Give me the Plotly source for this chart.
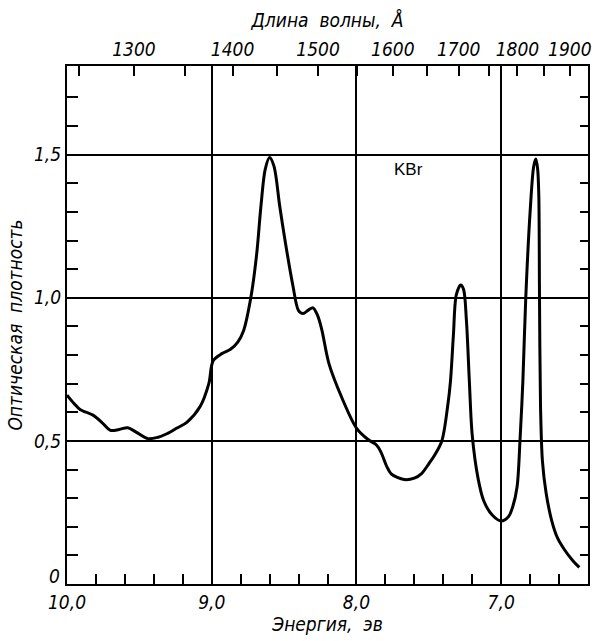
import plotly.graph_objects as go

# Absorption spectrum of KBr: energy (eV) vs optical density
energy = [10.0, 9.95, 9.91, 9.82, 9.76, 9.70, 9.64, 9.58, 9.52, 9.44, 9.37, 9.31, 9.24, 9.17,
          9.08, 9.02, 8.99, 8.93, 8.87, 8.82, 8.78, 8.73, 8.69, 8.66, 8.63, 8.60, 8.57, 8.53,
          8.49, 8.44, 8.40, 8.37, 8.33, 8.30, 8.27, 8.24, 8.19, 8.10, 8.0, 7.92, 7.86, 7.83,
          7.79, 7.76, 7.67, 7.60, 7.55, 7.50, 7.46, 7.41, 7.37, 7.35, 7.33, 7.31, 7.28, 7.26,
          7.24, 7.22, 7.20, 7.16, 7.12, 7.06, 7.0, 6.95, 6.92, 6.89, 6.87, 6.85, 6.83, 6.80,
          6.775, 6.76, 6.748, 6.74, 6.735, 6.728, 6.715, 6.69, 6.65, 6.61, 6.56, 6.51, 6.46]
density = [0.66, 0.63, 0.61, 0.59, 0.565, 0.537, 0.54, 0.546, 0.53, 0.508, 0.513, 0.525, 0.545, 0.566,
           0.62, 0.70, 0.78, 0.805, 0.82, 0.845, 0.885, 1.0, 1.15, 1.32, 1.45, 1.49, 1.46, 1.32,
           1.19, 1.045, 0.955, 0.945, 0.958, 0.965, 0.94, 0.89, 0.77, 0.65, 0.545, 0.505, 0.485, 0.46,
           0.41, 0.385, 0.365, 0.37, 0.386, 0.42, 0.45, 0.50, 0.62, 0.71, 0.87, 1.01, 1.045, 1.03,
           0.92, 0.71, 0.52, 0.37, 0.29, 0.24, 0.22, 0.235, 0.27, 0.34, 0.50, 0.71, 1.0, 1.30,
           1.46, 1.485, 1.45, 1.36, 0.99, 0.62, 0.43, 0.32, 0.22, 0.16, 0.118, 0.085, 0.058]

# Axis ticks
energy_ticks = [10.0, 9.0, 8.0, 7.0]
energy_labels = ["10,0", "9,0", "8,0", "7,0"]
energy_minor = [9.8, 9.6, 9.4, 9.2, 8.8, 8.6, 8.4, 8.2, 7.8, 7.6, 7.4, 7.2, 6.8, 6.6]
wave_ticks = [1300, 1400, 1500, 1600, 1700, 1800, 1900]
wave_minor = [1250, 1350, 1450, 1550, 1650, 1750, 1850]
density_ticks = [0.5, 1.0, 1.5]
density_labels = ["0,5", "1,0", "1,5"]
density_zero = 0.0
density_minor = [0.1, 0.2, 0.3, 0.4, 0.6, 0.7, 0.8, 0.9, 1.1, 1.2, 1.3, 1.4, 1.6, 1.7]

HC = 12398.4  # eV·Å
X_RANGE = [10.0, 6.4]
Y_RANGE = [0.0, 1.81]

FONT = "Liberation Sans Narrow, DejaVu Sans Condensed, Arial Narrow, sans-serif"

fig = go.Figure()
fig.add_trace(go.Scatter(x=energy, y=density, mode="lines",
                         line=dict(color="black", width=3, shape="spline", smoothing=0.9),
                         showlegend=False, hoverinfo="skip"))
# invisible traces to anchor top and right axes
fig.add_trace(go.Scatter(x=energy, y=density, xaxis="x2", yaxis="y", mode="lines",
                         line=dict(color="rgba(0,0,0,0)", width=0), showlegend=False, hoverinfo="skip"))
fig.add_trace(go.Scatter(x=energy, y=density, xaxis="x", yaxis="y2", mode="lines",
                         line=dict(color="rgba(0,0,0,0)", width=0), showlegend=False, hoverinfo="skip"))

tickfont = dict(family=FONT, size=19, color="black")
titlefont = dict(family=FONT, size=19, color="black")

fig.update_layout(
    width=596, height=641,
    margin=dict(l=67, r=8, t=66, b=57),
    paper_bgcolor="white", plot_bgcolor="white",
    xaxis=dict(range=X_RANGE, tickmode="array", tickvals=energy_ticks,
               ticktext=[f"<i>{t}</i>" for t in energy_labels], automargin=False,
               tickfont=tickfont, ticks="", showgrid=True, gridcolor="black", gridwidth=1.5,
               showline=True, linecolor="black", linewidth=2, zeroline=False,
               minor=dict(tickmode="array", tickvals=energy_minor, ticks="inside",
                          ticklen=10, tickwidth=1.5, tickcolor="black", showgrid=False),
               title=dict(text="<i>Энергия,  эв</i>", font=titlefont, standoff=4)),
    xaxis2=dict(range=X_RANGE, overlaying="x", side="top", tickmode="array",
                tickvals=[HC / w for w in wave_ticks], automargin=False,
                ticktext=[f"<i>{w}</i>" for w in wave_ticks],
                tickfont=tickfont, ticks="inside", ticklen=10, tickwidth=1.5, tickcolor="black",
                showgrid=False, showline=True, linecolor="black", linewidth=2, zeroline=False,
                minor=dict(tickmode="array", tickvals=[HC / w for w in wave_minor], ticks="inside",
                           ticklen=10, tickwidth=1.5, tickcolor="black", showgrid=False),
                title=dict(text="<i>Длина  волны,  Å</i>", font=titlefont, standoff=6)),
    yaxis=dict(range=Y_RANGE, tickmode="array", tickvals=density_ticks,
               ticktext=[f"<i>{t}</i>" for t in density_labels], automargin=False,
               tickfont=tickfont, ticks="", showgrid=True, gridcolor="black", gridwidth=1.5,
               showline=True, linecolor="black", linewidth=2, zeroline=False,
               minor=dict(tickmode="array", tickvals=density_minor, ticks="inside",
                          ticklen=11, tickwidth=1.5, tickcolor="black", showgrid=False),
               title=dict(text="<i>Оптическая  плотность</i>", font=titlefont, standoff=6)),
    yaxis2=dict(range=Y_RANGE, overlaying="y", side="right", tickmode="array",
                tickvals=density_ticks + density_minor, showticklabels=False, automargin=False,
                ticks="inside", ticklen=8, tickwidth=1.5, tickcolor="black",
                showgrid=False, showline=True, linecolor="black", linewidth=2, zeroline=False),
    annotations=[
        dict(x=7.64, y=1.45, xref="x", yref="y", text="KBr", showarrow=False,
             font=dict(family="Liberation Sans, Arial, sans-serif", size=17, color="black")),
        dict(x=0, y=density_zero, xref="paper", yref="y", text="<i>0</i>", showarrow=False,
             xanchor="right", yanchor="middle", xshift=-5, yshift=8, font=tickfont),
    ],
)

fig.write_html("out.html")
